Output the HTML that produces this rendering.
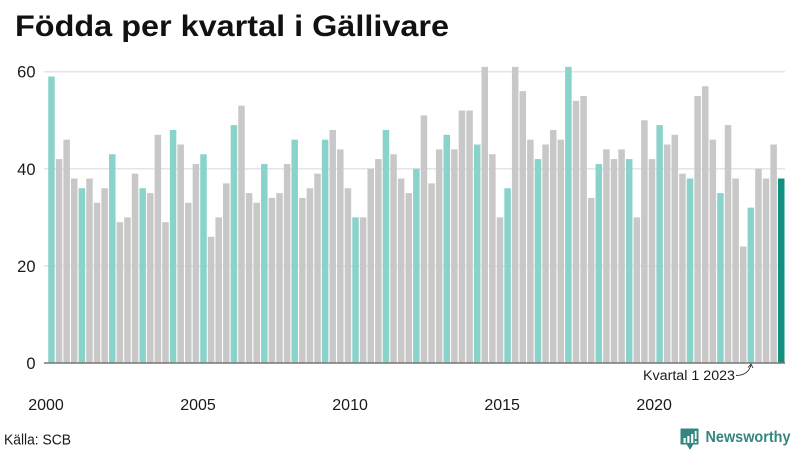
<!DOCTYPE html>
<html lang="sv">
<head>
<meta charset="utf-8">
<title>Födda per kvartal i Gällivare</title>
<style>
html,body{margin:0;padding:0;background:#fff;width:800px;height:450px;overflow:hidden}
svg{display:block}
text{font-family:"Liberation Sans","DejaVu Sans",sans-serif;fill:#1a1a1a}
</style>
</head>
<body>
<svg id="chart" width="800" height="450" viewBox="0 0 800 450" xmlns="http://www.w3.org/2000/svg">
  <rect width="800" height="450" fill="#fff"/>
  <text x="15" y="36" font-size="29.5" font-weight="700" textLength="434" lengthAdjust="spacingAndGlyphs" style="fill:#111">Födda per kvartal i Gällivare</text>
  <g id="grid"></g>
  <g id="yticks"></g>
  <g id="bars"></g>
  <g id="xticks"></g>
  <line x1="44" x2="785" y1="363" y2="363" stroke="#777" stroke-width="1.6"/>
  <text x="643" y="380" font-size="13.5" textLength="92" lengthAdjust="spacingAndGlyphs">Kvartal 1 2023</text>
  <path d="M736 375.5 C744 375.5 749 372 751 365" fill="none" stroke="#333" stroke-width="0.9"/>
  <path d="M748 367.5 L751 364 L753 368" fill="none" stroke="#333" stroke-width="0.9"/>
  <text x="4" y="444.5" font-size="14.5" textLength="67" lengthAdjust="spacingAndGlyphs">Källa: SCB</text>
  <g>
    <path d="M681 429 H698 V444 H693 L690 449 L687 444 H681 Z" fill="#34877f" stroke="#34877f" stroke-width="1" stroke-linejoin="round"/>
    <rect x="683.5" y="438" width="2.2" height="5" fill="#fff"/>
    <rect x="687.3" y="436" width="2.2" height="7" fill="#fff"/>
    <rect x="691.1" y="434" width="2.2" height="9" fill="#fff"/>
    <rect x="694.8" y="431" width="1.8" height="8" fill="#fff"/>
    <rect x="694.8" y="441" width="1.8" height="2" fill="#fff"/>
    <text x="705.5" y="442" font-size="16" font-weight="700" textLength="85" lengthAdjust="spacingAndGlyphs" style="fill:#34877f">Newsworthy</text>
  </g>
</svg>
<script>
const startYear = 2000;
const values = [
  59,42,46,38, 36,38,33,36, 43,29,30,39, 36,35,47,29, 48,45,33,41,
  43,26,30,37, 49,53,35,33, 41,34,35,41, 46,34,36,39, 46,48,44,36,
  30,30,40,42, 48,43,38,35, 40,51,37,44, 47,44,52,52, 45,61,43,30,
  36,61,56,46, 42,45,48,46, 61,54,55,34, 41,44,42,44, 42,30,50,42,
  49,45,47,39, 38,55,57,46, 35,49,38,24, 32,40,38,45, 38
];
const yTicks = [0, 20, 40, 60];
const xTicks = [2000, 2005, 2010, 2015, 2020];

const NS = 'http://www.w3.org/2000/svg';
const plotLeft = 48.2, lastBarLeft = 778, y0 = 363, y60 = 71.7;
const yMax = 60;
const step = (lastBarLeft - plotLeft) / (values.length - 1);
const barW = 6.5;
const xPos = i => plotLeft + i * step;
const yPos = v => y0 - (v / yMax) * (y0 - y60);
const xYear = yr => xPos((yr - startYear) * 4) - 2.2;

const grid = document.getElementById('grid');
const yG = document.getElementById('yticks');
yTicks.forEach(t => {
  if (t !== 0) {
    const l = document.createElementNS(NS, 'line');
    l.setAttribute('x1', 44);
    l.setAttribute('x2', 785);
    l.setAttribute('y1', yPos(t));
    l.setAttribute('y2', yPos(t));
    l.setAttribute('stroke', '#e4e4ea');
    l.setAttribute('stroke-width', '1.5');
    
    
    grid.appendChild(l);
  }
  const tx = document.createElementNS(NS, 'text');
  tx.setAttribute('x', 35.5);
  tx.setAttribute('y', yPos(t) + 6);
  tx.setAttribute('text-anchor', 'end');
  tx.setAttribute('font-size', '16.5');
  tx.textContent = t;
  
  
  yG.appendChild(tx);
});

const barsG = document.getElementById('bars');
values.forEach((v, i) => {
  const r = document.createElementNS(NS, 'rect');
  const isLast = i === values.length - 1;
  const isQ1 = i % 4 === 0;
  r.setAttribute('x', xPos(i));
  r.setAttribute('y', yPos(v));
  r.setAttribute('width', barW);
  r.setAttribute('height', y0 - yPos(v));
  r.setAttribute('fill', isLast ? '#12907f' : isQ1 ? '#8ad3cb' : '#c8c8c8');
  
  
  barsG.appendChild(r);
});

const xG = document.getElementById('xticks');
xTicks.forEach(yr => {
  const tx = document.createElementNS(NS, 'text');
  tx.setAttribute('x', xYear(yr));
  tx.setAttribute('y', 410);
  tx.setAttribute('text-anchor', 'middle');
  tx.setAttribute('font-size', '16');
  tx.textContent = yr;
  
  
  xG.appendChild(tx);
});
</script>
</body>
</html>
